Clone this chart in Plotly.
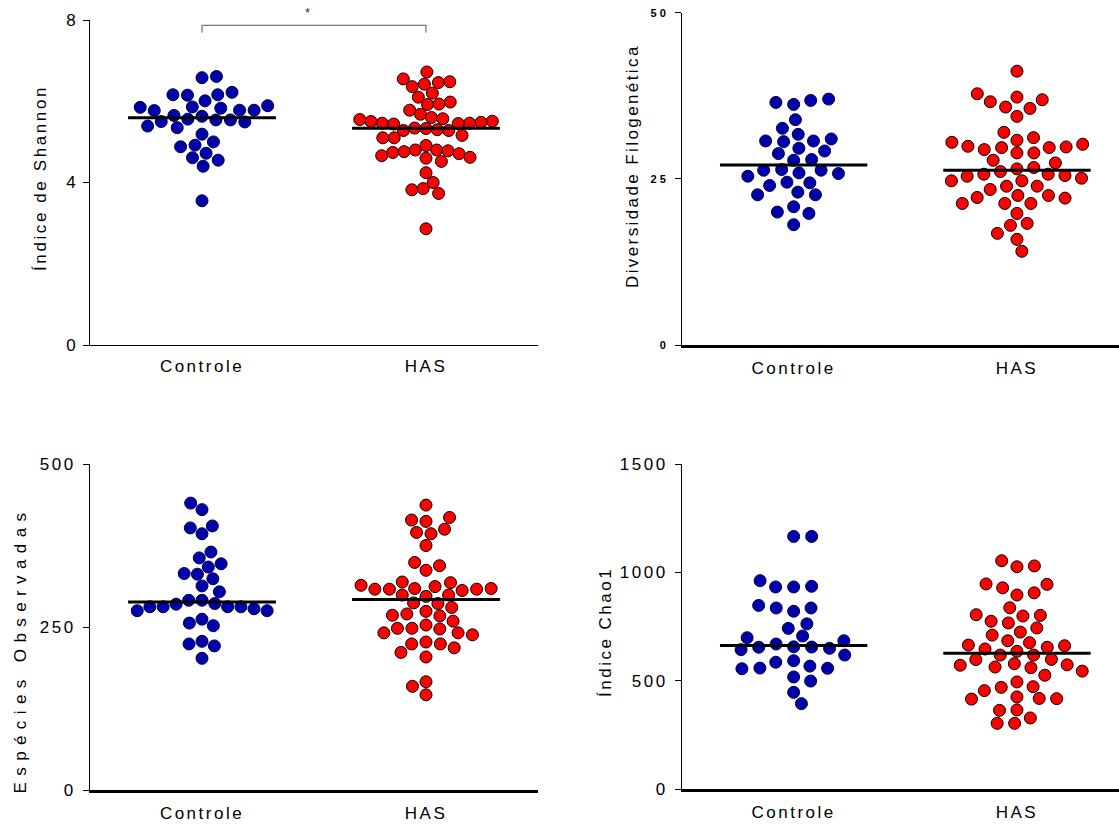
import numpy as np
import plotly.graph_objects as go

# ---------------------------------------------------------------- data
groups = ["Controle", "HAS"]

shannon_controle = [6.61, 6.58, 6.16, 6.16, 6.15, 6.22, 5.89, 5.85, 5.78, 5.83, 5.86, 6.01,
                    5.77, 5.78, 5.63, 5.65, 5.56, 5.54, 5.50, 5.39, 5.35, 5.49, 5.54, 5.19,
                    5.00, 4.88, 4.92, 4.72, 4.55, 4.61, 4.40, 3.55]
shannon_has = [6.72, 6.46, 6.36, 6.55, 6.42, 6.48, 5.98, 5.92, 6.10, 6.20, 5.93, 5.68,
               5.60, 5.78, 5.57, 5.51, 5.48, 5.46, 5.44, 5.33, 5.28, 5.16, 5.28, 5.30,
               5.34, 5.46, 5.45, 5.50, 5.55, 5.10, 5.10, 4.80, 4.78, 4.66, 4.74, 4.60,
               4.71, 4.76, 4.52, 4.80, 4.62, 4.91, 4.24, 4.00, 3.82, 3.73, 3.85, 2.86]

pd_controle = [36.2, 36.8, 37.0, 36.5, 33.9, 31.7, 32.6, 30.7, 30.6, 30.7, 31.0, 29.2,
               29.6, 28.8, 27.9, 27.8, 26.3, 26.3, 25.8, 25.9, 26.4, 25.4, 24.5, 24.0,
               24.4, 23.0, 22.6, 22.6, 20.8, 20.0, 19.8, 18.1]
pd_has = [41.2, 37.8, 36.9, 35.8, 34.4, 35.6, 36.6, 37.3, 32.0, 30.8, 30.2, 29.8,
          29.7, 28.9, 28.9, 29.4, 29.7, 29.9, 30.5, 31.2, 27.8, 27.4, 26.7, 26.1,
          26.5, 25.7, 25.5, 25.1, 24.7, 23.9, 23.4, 23.9, 24.7, 25.4, 25.7, 22.5,
          22.1, 21.3, 21.3, 21.3, 22.2, 22.5, 19.8, 18.0, 18.3, 16.8, 15.9, 14.1]

obs_controle = [440, 430, 402, 405, 393, 365, 356, 342, 332, 347, 324, 331,
                313, 304, 291, 285, 291, 286, 278, 275, 281, 281, 281, 281,
                275, 256, 252, 262, 224, 221, 228, 202]
obs_has = [437, 414, 412, 418, 400, 395, 393, 375, 344, 337, 349, 319,
           314, 309, 309, 308, 299, 297, 299, 306, 308, 308, 312, 318,
           286, 287, 274, 268, 267, 270, 280, 253, 259, 248, 241, 238,
           241, 247, 248, 227, 224, 224, 218, 211, 204, 166, 159, 146]

chao_controle = [1166, 1166, 936, 933, 933, 962, 836, 848, 821, 836, 763, 707,
                 742, 685, 670, 699, 650, 656, 644, 655, 657, 619, 568, 558,
                 586, 593, 556, 559, 518, 499, 447, 395]
chao_has = [1054, 1030, 1026, 947, 929, 896, 906, 945, 837, 775, 744, 802,
            799, 805, 767, 711, 725, 676, 662, 647, 619, 619, 636, 655,
            665, 685, 599, 579, 572, 561, 526, 545, 564, 574, 598, 495,
            470, 455, 473, 426, 418, 416, 419, 366, 364, 329, 304, 304]

shannon_ticks = [0, 4, 8]
pd_ticks = [0, 25, 50]
obs_ticks = [0, 250, 500]
chao_ticks = [0, 500, 1000, 1500]

# ---------------------------------------------------------------- styling
FIG_W, FIG_H = 1119, 825
FONT = "Liberation Sans, Arial, Helvetica, sans-serif"
FILL = ["#0000AA", "#FF0000"]
EDGE = ["#00004A", "#000000"]
MARKER_D = 12          # marker diameter, px
SWARM_SX = 18          # horizontal spacing of neighbouring points, px
SWARM_SY = 12.5        # vertical distance below which points must be spread, px
SWARM_HALF = 66        # max horizontal spread of a swarm, px
MEDIAN_HALF = 0.33     # half length of the median bar, x units


def spaced(text, ls, bold=False):
    inner = f"<b>{text}</b>" if bold else text
    return f'<span style="letter-spacing:{ls}px">{inner}</span>'


panels = [
    dict(data=(shannon_controle, shannon_has), yrange=[0, 8], ticks=shannon_ticks,
         tick_ls=0, tick_bold=False, tick_size=17,
         xdom=[90 / FIG_W, 538 / FIG_W], xrange=[-0.5, 1.5],
         ydom=[(FIG_H - 345) / FIG_H, (FIG_H - 20) / FIG_H],
         title="Índice de Shannon", title_ls=2.6, title_xy=(41, 178), xline=1),
    dict(data=(pd_controle, pd_has), yrange=[0, 50], ticks=pd_ticks,
         tick_ls=3, tick_bold=True, tick_size=11,
         xdom=[682 / FIG_W, 1.0], xrange=[-0.5, 1.457],
         ydom=[(FIG_H - 345) / FIG_H, (FIG_H - 12.7) / FIG_H],
         title="Diversidade Filogenética", title_ls=2.4, title_xy=(633, 166), xline=2.5),
    dict(data=(obs_controle, obs_has), yrange=[0, 500], ticks=obs_ticks,
         tick_ls=2.5, tick_bold=False, tick_size=17,
         xdom=[90 / FIG_W, 538 / FIG_W], xrange=[-0.5, 1.5],
         ydom=[(FIG_H - 790) / FIG_H, (FIG_H - 464) / FIG_H],
         title="Espécies Observadas", title_ls=6.4, title_xy=(19.5, 650), xline=2.5),
    dict(data=(chao_controle, chao_has), yrange=[0, 1500], ticks=chao_ticks,
         tick_ls=2.5, tick_bold=False, tick_size=17,
         xdom=[682 / FIG_W, 1.0], xrange=[-0.5, 1.457],
         ydom=[(FIG_H - 789.3) / FIG_H, (FIG_H - 464) / FIG_H],
         title="Índice Chao1", title_ls=2.5, title_xy=(605, 632), xline=2.5),
]


def swarm_offsets(values, y_ppu, sx, sy, half_width):
    """Greedy beeswarm grown outward from the median; offsets in px."""
    ys = np.asarray(values, dtype=float) * y_ppu
    order = np.argsort(np.abs(ys - np.median(ys)), kind="stable")
    while True:
        xs = np.zeros(len(ys))
        placed = []
        last = 1.0
        for i in order:
            y = ys[i]
            near = [(xj, yj) for xj, yj in placed if abs(y - yj) < sy]
            cands = [0.0]
            for xj, yj in near:
                dx = sx * np.sqrt(1 - ((y - yj) / sy) ** 2)
                cands += [xj + dx, xj - dx]
            ok = [c for c in cands
                  if all(((c - xj) / sx) ** 2 + ((y - yj) / sy) ** 2 >= 1 - 1e-6
                         for xj, yj in near)]
            best = min(ok, key=lambda c: (round(abs(c), 4), c * last > 0))
            if best != 0:
                last = np.sign(best)
            xs[i] = best
            placed.append((best, y))
        if np.max(np.abs(xs)) <= half_width + 0.5 or sx < 5:
            return xs
        sx *= 0.97


fig = go.Figure()
layout = dict(
    width=FIG_W, height=FIG_H,
    margin=dict(l=0, r=0, t=0, b=0, autoexpand=False),
    paper_bgcolor="white", plot_bgcolor="white",
    showlegend=False,
    font=dict(family=FONT, color="#000000"),
    annotations=[],
)

for k, p in enumerate(panels, start=1):
    xa, ya = f"x{k}", f"y{k}"
    x_ppu = (p["xdom"][1] - p["xdom"][0]) * FIG_W / (p["xrange"][1] - p["xrange"][0])
    y_ppu = (p["ydom"][1] - p["ydom"][0]) * FIG_H / (p["yrange"][1] - p["yrange"][0])

    for g, vals in enumerate(p["data"]):
        offs = swarm_offsets(vals, y_ppu, SWARM_SX, SWARM_SY, SWARM_HALF)
        fig.add_trace(go.Scatter(
            x=g + offs / x_ppu, y=vals, mode="markers", xaxis=xa, yaxis=ya,
            marker=dict(size=MARKER_D, color=FILL[g], line=dict(color=EDGE[g], width=1)),
            hoverinfo="y", name=groups[g],
        ))
        med = float(np.median(vals))
        fig.add_trace(go.Scatter(
            x=[g - MEDIAN_HALF, g + MEDIAN_HALF], y=[med, med], mode="lines",
            xaxis=xa, yaxis=ya, line=dict(color="black", width=3), hoverinfo="skip",
        ))

    layout[f"xaxis{k}"] = dict(
        domain=p["xdom"], range=p["xrange"], anchor=ya, automargin=False,
        showline=True, linecolor="black", linewidth=p["xline"],
        showgrid=False, zeroline=False, ticks="",
        tickvals=[0, 1], ticktext=[spaced(gname, 2.5) for gname in groups],
        tickfont=dict(size=17, family=FONT, color="black"),
        ticklabelstandoff=6,
    )
    layout[f"yaxis{k}"] = dict(
        domain=p["ydom"], range=p["yrange"], anchor=xa, automargin=False,
        showline=True, linecolor="black", linewidth=1,
        showgrid=False, zeroline=False,
        ticks="outside", ticklen=6, tickwidth=1, tickcolor="black",
        tickvals=p["ticks"],
        ticktext=[spaced(t, p["tick_ls"], p["tick_bold"]) for t in p["ticks"]],
        tickfont=dict(size=p["tick_size"], family=FONT, color="black"),
        ticklabelstandoff=4,
    )
    tx, ty = p["title_xy"]
    layout["annotations"].append(dict(
        x=tx / FIG_W, y=(FIG_H - ty) / FIG_H, xref="paper", yref="paper",
        text=spaced(p["title"], p["title_ls"]), textangle=-90, showarrow=False,
        xanchor="center", yanchor="middle",
        font=dict(size=17, family=FONT, color="black"),
    ))

# significance bracket between the two Shannon groups
BRACKET_TOP, BRACKET_DROP = 7.87, 0.18
fig.add_trace(go.Scatter(
    x=[0, 0, 1, 1], y=[BRACKET_TOP - BRACKET_DROP, BRACKET_TOP, BRACKET_TOP, BRACKET_TOP - BRACKET_DROP],
    mode="lines", xaxis="x1", yaxis="y1", line=dict(color="#555555", width=1), hoverinfo="skip",
))
layout["annotations"].append(dict(
    x=0.47, y=BRACKET_TOP, xref="x1", yref="y1", text="*", showarrow=False,
    yanchor="bottom", yshift=3, font=dict(size=13, family=FONT, color="#333333"),
))

fig.update_layout(**layout)
fig.write_html("out.html")
